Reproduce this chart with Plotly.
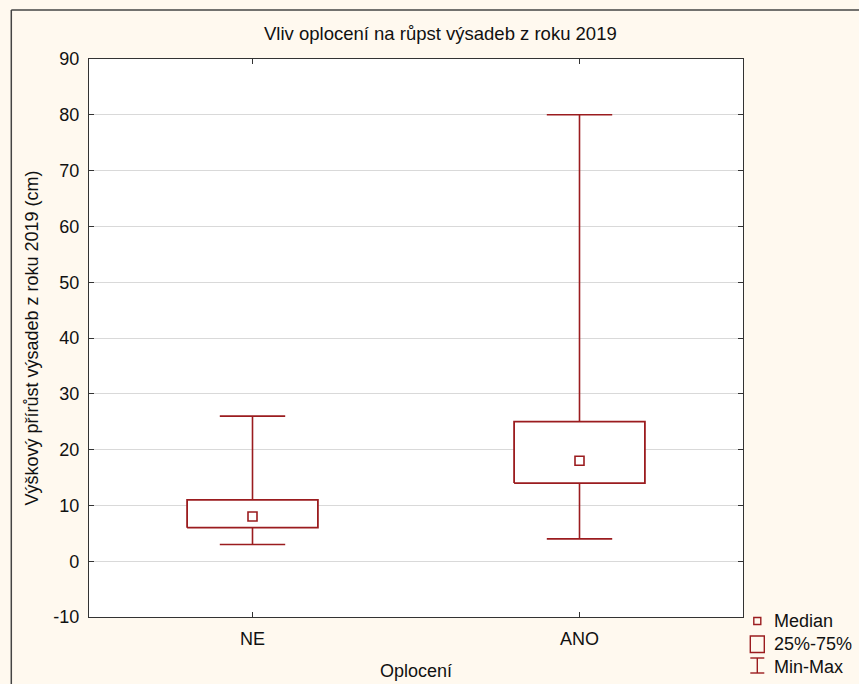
import plotly.graph_objects as go
import numpy as np

categories = ["NE", "ANO"]
mins = [3, 4]
q1s = [6, 14]
medians = [8, 18]
q3s = [11, 25]
maxs = [26, 80]
y_ticks = [-10, 0, 10, 20, 30, 40, 50, 60, 70, 80, 90]
y_ticktext = [str(v) for v in y_ticks]

RED = "#9b1c1f"
W, H = 859, 684
L, T = 88.7, 59
R = W - 742.7
B = H - 617
PW, PH = W - L - R, H - T - B


def px(x):
    return (x - L) / PW


def py(y):
    return 1 - (y - T) / PH


pos = np.arange(len(categories))
bw = 0.2   # box half width
cw = 0.1   # cap half width

fig = go.Figure()

# whiskers and caps
wx, wy = [], []
for p, lo, a, b, hi in zip(pos, mins, q1s, q3s, maxs):
    wx += [p, p, None, p, p, None, p - cw, p + cw, None, p - cw, p + cw, None]
    wy += [lo, a, None, b, hi, None, lo, lo, None, hi, hi, None]
fig.add_trace(go.Scatter(x=wx, y=wy, mode="lines",
                         line=dict(color=RED, width=1.6),
                         hoverinfo="skip", showlegend=False))

# boxes
for p, a, b in zip(pos, q1s, q3s):
    fig.add_trace(go.Scatter(x=[p - bw, p + bw, p + bw, p - bw, p - bw],
                             y=[a, a, b, b, a], mode="lines", fill="toself",
                             fillcolor="white", line=dict(color=RED, width=1.8),
                             hoverinfo="skip", showlegend=False))

# medians
fig.add_trace(go.Scatter(x=pos, y=medians, mode="markers",
                         marker=dict(symbol="square-open", size=9, color=RED,
                                     line=dict(width=1.6, color=RED)),
                         showlegend=False))

FONT = "Arial, Liberation Sans, sans-serif"

fig.update_layout(
    width=W, height=H, autosize=False,
    margin=dict(l=L, r=R, t=T, b=B, pad=0, autoexpand=False),
    paper_bgcolor="#fff9ef",
    plot_bgcolor="white",
    font=dict(family=FONT, size=18, color="#111"),
    showlegend=False,
    xaxis=dict(range=[-0.5, 1.5], tickvals=list(pos), ticktext=categories,
               ticks="inside", ticklen=5, tickcolor="#333",
               showline=True, linecolor="#333", linewidth=1.2, mirror="ticks",
               showgrid=False, zeroline=False, ticklabelstandoff=5,
               automargin=False,
               tickfont=dict(size=18),
               title=dict(text="Oplocení", font=dict(size=18), standoff=16)),
    yaxis=dict(range=[-10, 90], tickvals=y_ticks, ticktext=y_ticktext,
               ticks="inside", ticklen=5, tickcolor="#333",
               showline=True, linecolor="#333", linewidth=1.2, mirror="ticks",
               showgrid=True, gridcolor="#d9d9d9", gridwidth=1, zeroline=False,
               ticklabelstandoff=5, automargin=False,
               tickfont=dict(size=18),
               title=dict(text="Výškový přírůst výsadeb z roku 2019 (cm)",
                          font=dict(size=18), standoff=9)),
)

# title
fig.add_annotation(text="Vliv oplocení na růpst výsadeb z roku 2019",
                   xref="paper", yref="paper", x=px(440), y=py(34),
                   showarrow=False, font=dict(size=18.5), xanchor="center", yanchor="middle")

# outer frame (left and top edges)
fig.add_shape(type="line", xref="paper", yref="paper",
              x0=px(11), y0=py(700), x1=px(11), y1=py(10),
              line=dict(color="#444", width=1.5), layer="below")
fig.add_shape(type="line", xref="paper", yref="paper",
              x0=px(11), y0=py(10), x1=px(870), y1=py(10),
              line=dict(color="#444", width=1.5), layer="below")

# manual legend
cx = 757
fig.add_shape(type="rect", xref="paper", yref="paper",
              x0=px(cx - 3.5), x1=px(cx + 3.5), y0=py(624.5), y1=py(617.5),
              line=dict(color=RED, width=1.4))
fig.add_shape(type="rect", xref="paper", yref="paper",
              x0=px(cx - 7), x1=px(cx + 7), y0=py(652.5), y1=py(636),
              line=dict(color=RED, width=1.4))
fig.add_shape(type="line", xref="paper", yref="paper",
              x0=px(cx), x1=px(cx), y0=py(673), y1=py(658),
              line=dict(color=RED, width=1.4))
fig.add_shape(type="line", xref="paper", yref="paper",
              x0=px(cx - 7), x1=px(cx + 7), y0=py(673), y1=py(673),
              line=dict(color=RED, width=1.4))
fig.add_shape(type="line", xref="paper", yref="paper",
              x0=px(cx - 7), x1=px(cx + 7), y0=py(658), y1=py(658),
              line=dict(color=RED, width=1.4))
for label, yy in zip(["Median", "25%-75%", "Min-Max"], [621, 644, 667]):
    fig.add_annotation(text=label, xref="paper", yref="paper",
                       x=px(772), y=py(yy), showarrow=False,
                       xanchor="left", yanchor="middle", font=dict(size=18))

fig.write_html(
    "out.html",
    config={"displayModeBar": False},
    post_script="document.body.style.margin='0';document.body.style.overflow='hidden';",
)
